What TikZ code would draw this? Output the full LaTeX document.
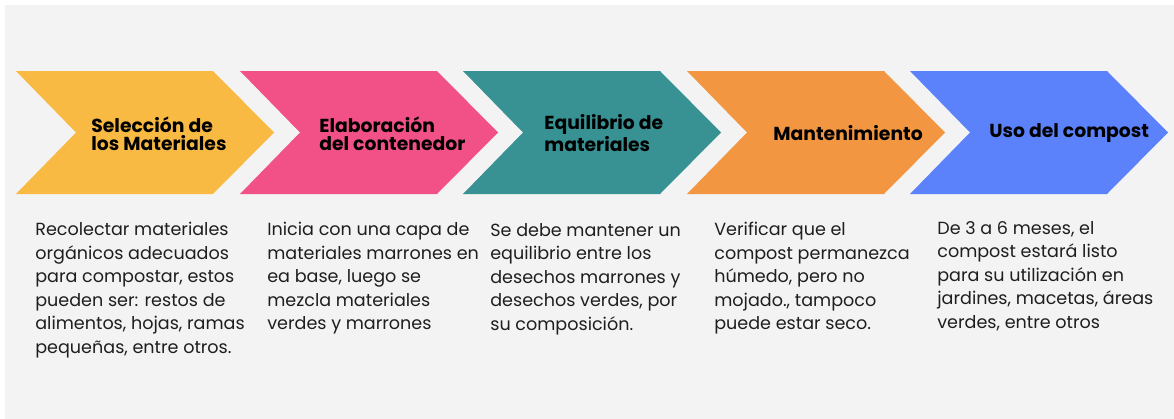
\documentclass[tikz,border=0pt]{standalone}
\usepackage{fontspec}
\setmainfont{Poppins}
\usepackage{xcolor}
\usetikzlibrary{positioning}
\definecolor{bgGray}{HTML}{F3F3F3}
\definecolor{stepYellow}{HTML}{F8BA42}
\definecolor{stepPink}{HTML}{F25187}
\definecolor{stepTeal}{HTML}{389294}
\definecolor{stepOrange}{HTML}{F39642}
\definecolor{stepBlue}{HTML}{5B82FB}
\definecolor{bodyText}{HTML}{1E1E1E}
\tikzset{
	title/.style={
			anchor=west,
			align=left,
			inner sep=0pt,
			font=\fontsize{10.7pt}{10.3pt}\selectfont\bfseries,
			text=black
		},
	desc/.style={
			anchor=north west,
			align=left,
			inner sep=0pt,
			font=\fontsize{10pt}{13.4pt}\selectfont,
			text=bodyText
		}
}

\begin{document}
\begin{tikzpicture}[x=0.02cm,y=-0.02cm]
	\useasboundingbox (0,0) rectangle (1174,419);
	\fill[bgGray] (5,5) rectangle (1174,419);

	% chevrons
	\foreach \s/\c in {16/stepYellow,240/stepPink,463/stepTeal,687/stepOrange,910/stepBlue}{
			\fill[\c] (\s,71) -- ++(197,0) -- ++(61,61.5) -- ++(-61,61.5) -- ++(-197,0) -- ++(60,-61.5) -- cycle;
		}

	\node[title] at (91,134) (sel) {Selección de\\los Materiales};
	\node[title] at (319,134) (ela) {Elaboración\\del contenedor};
	\node[title] at (544,133) (equ) {Equilibrio de\\materiales};
	\node[title] at (773,133) (man) {Mantenimiento};
	\node[title] at (989,133) (uso) {Uso del compost};

	\node[desc] at (35,222) (d1) {Recolectar materiales\\orgánicos adecuados\\para compostar, estos\\pueden ser: restos de\\alimentos, hojas, ramas\\pequeñas, entre otros.};
	\node[desc] at (267,222) (d2) {Inicia con una capa de\\materiales marrones en\\ea base, luego se\\mezcla materiales\\verdes y marrones};
	\node[desc] at (490,223) (d3) {Se debe mantener un\\equilibrio entre los\\desechos marrones y\\desechos verdes, por\\su composición.};
	\node[desc] at (714,222) (d4) {Verificar que el\\compost permanezca\\húmedo, pero no\\mojado., tampoco\\puede estar seco.};
	\node[desc] at (937,221) (d5) {De 3 a 6 meses, el\\compost estará listo\\para su utilización en\\jardines, macetas, áreas\\verdes, entre otros};
\end{tikzpicture}
\end{document}
